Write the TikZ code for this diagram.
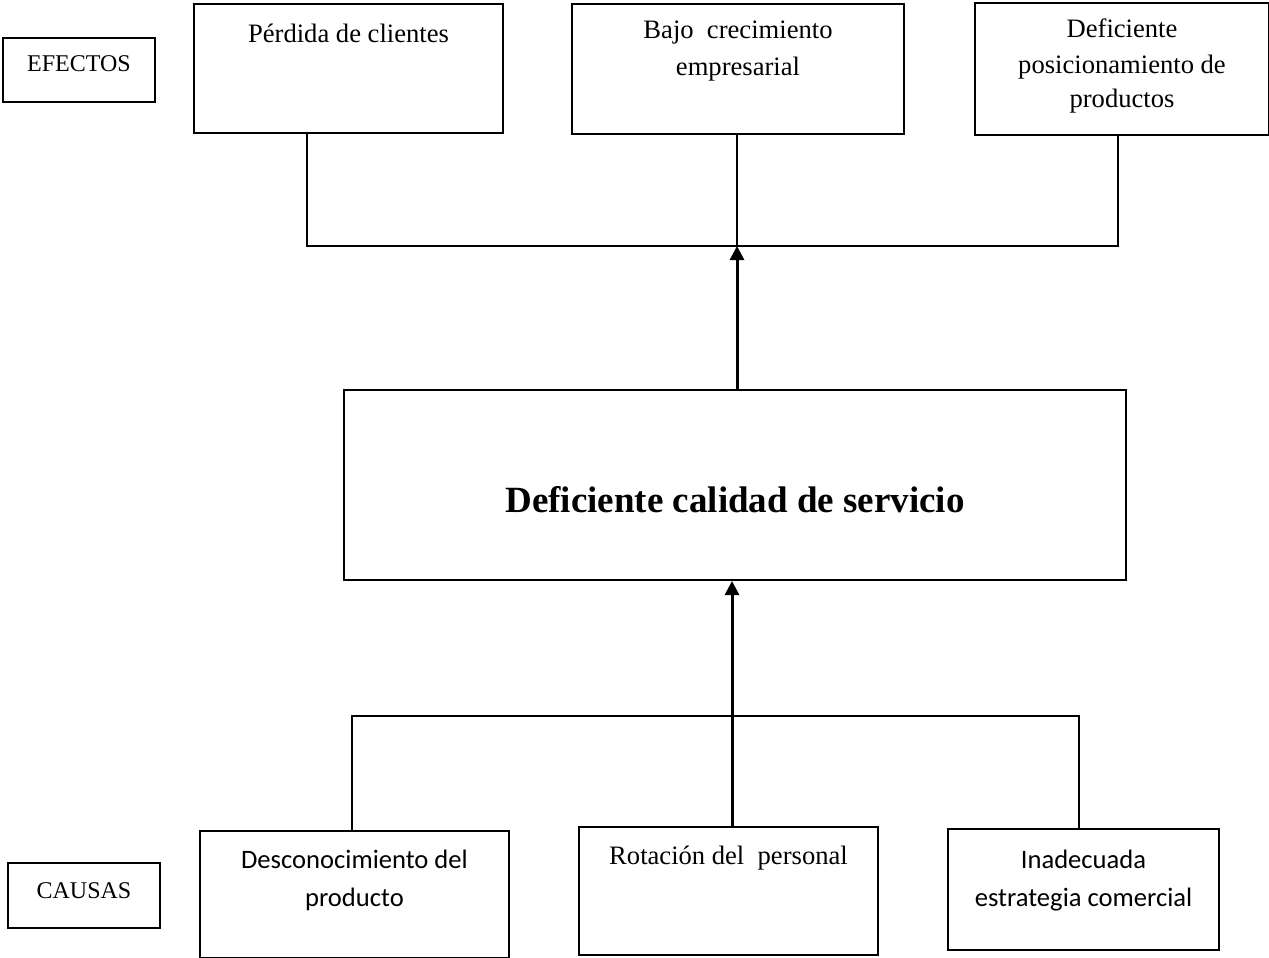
\documentclass[tikz,border=0pt]{standalone}
\usepackage{fontspec}
\setmainfont{Liberation Serif}
\newfontfamily\calibri{Carlito}
\usetikzlibrary{arrows.meta}

% texto de caja: ancho, alto, altura de la primera linea, texto
\newcommand{\textocaja}[4]{\parbox[t][#2][t]{#1}{\centering\rule{0pt}{#3}#4}}

\tikzset{
  caja/.style={draw, line width=1pt, anchor=north west, inner sep=0pt, font=\fontsize{13.3}{18}\selectfont},
  cajasans/.style={caja, font=\calibri\fontsize{13.3}{19}\selectfont},
  etiqueta/.style={caja, font=\fontsize{12}{14}\selectfont},
  linea/.style={line width=0.8pt},
  flecha/.style={line width=1.5pt, -{Triangle[width=7pt,length=7pt]}},
}

\begin{document}
\begin{tikzpicture}[x=0.5pt,y=-0.5pt]
  \useasboundingbox (0,0) rectangle (1269,958);

  % efectos
  \node[etiqueta] (efectos) at (2,37) {\textocaja{76pt}{32pt}{16.5pt}{EFECTOS}};
  \node[caja] (perdida) at (193,3) {\textocaja{154.5pt}{64.5pt}{19pt}{Pérdida de clientes}};
  \node[caja] (bajo) at (571,3) {\textocaja{166pt}{65pt}{17.5pt}{Bajo~ crecimiento\\empresarial}};
  \node[caja, font=\fontsize{13.3}{17.5}\selectfont] (posic) at (974,2)
    {\textocaja{147pt}{66pt}{17.5pt}{Deficiente\\posicionamiento de\\productos}};

  % problema central
  \node[caja, font=\bfseries\fontsize{18.5}{22}\selectfont] (central) at (343,389)
    {\textocaja{391pt}{95pt}{61pt}{Deficiente calidad de servicio}};

  % causas
  \node[etiqueta] (causas) at (7,862) {\textocaja{76pt}{32.5pt}{17.5pt}{CAUSAS}};
  \node[cajasans] (desconoc) at (199,830) {\textocaja{154.5pt}{63.5pt}{18.5pt}{Desconocimiento del\\producto}};
  \node[caja] (rotacion) at (578,826) {\textocaja{149.5pt}{64pt}{18.5pt}{Rotación del~ personal}};
  \node[cajasans] (estrategia) at (947,828) {\textocaja{135.5pt}{60.5pt}{19.5pt}{Inadecuada\\estrategia comercial}};

  % conectores
  \coordinate (sup-izq) at (307,246);
  \coordinate (sup-mid) at (737,246);
  \coordinate (sup-der) at (1118,246);
  \coordinate (inf-izq) at (352,716);
  \coordinate (inf-mid) at (732,716);
  \coordinate (inf-der) at (1079,716);

  \draw[linea] (sup-izq |- perdida.south) -- (sup-izq) -- (sup-der) -- (sup-der |- posic.south);
  \draw[linea] (sup-mid |- bajo.south) -- (sup-mid);
  \draw[flecha] (sup-mid |- central.north) -- (sup-mid);

  \draw[linea] (inf-izq |- desconoc.north) -- (inf-izq) -- (inf-der) -- (inf-der |- estrategia.north);
  \draw[flecha] (inf-mid |- rotacion.north) -- (inf-mid |- central.south);
\end{tikzpicture}
\end{document}
